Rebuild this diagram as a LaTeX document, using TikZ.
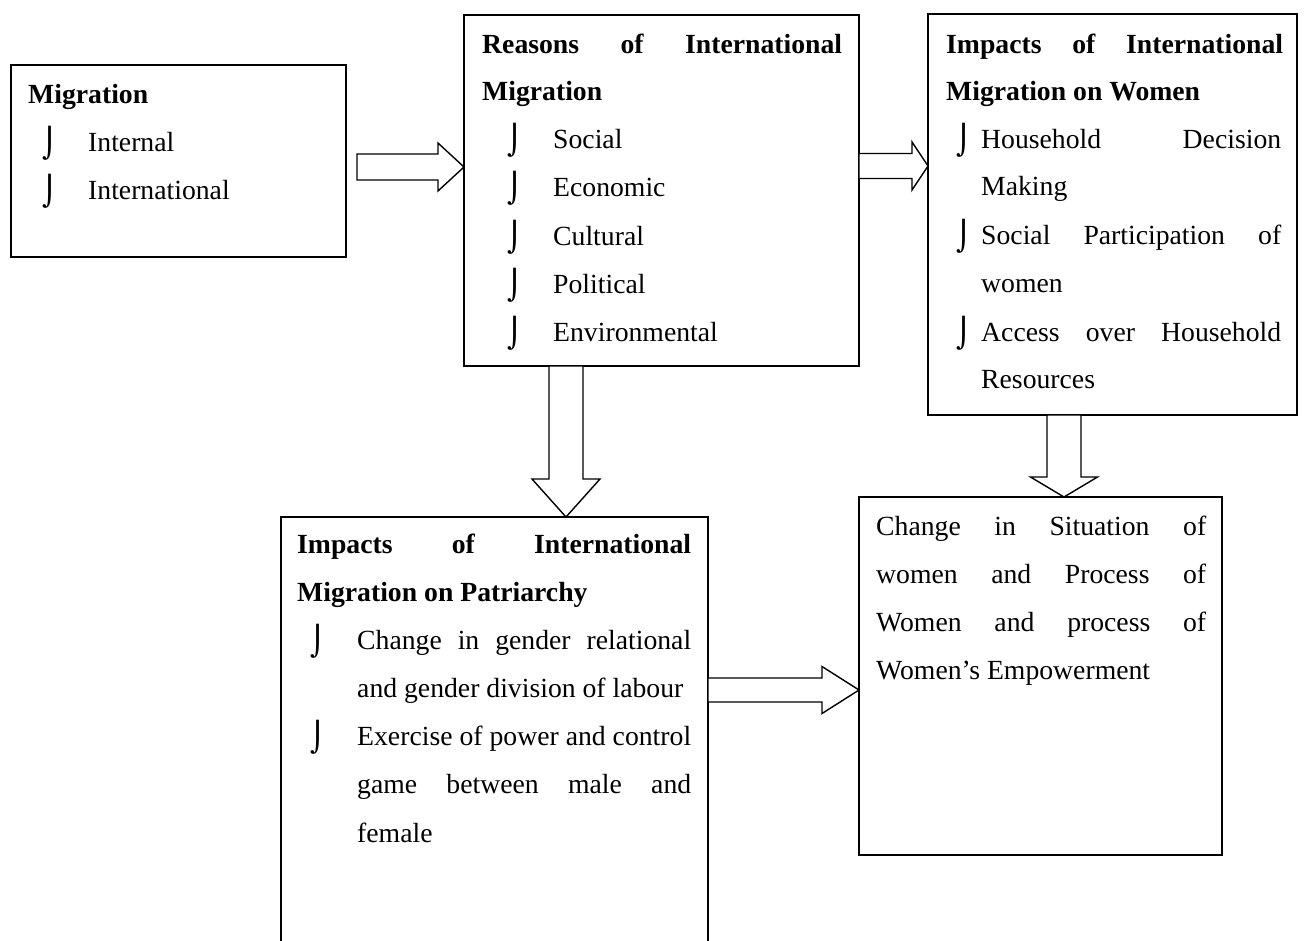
\documentclass[tikz,border=0pt]{standalone}
\usepackage{fontspec}
\setmainfont{Liberation Serif}
\newfontfamily\bulfont{DejaVu Sans}
\usetikzlibrary{calc}
\newcommand{\bul}{{\bulfont\fontsize{29}{29}\selectfont ⌡}}
% horizontal block arrow: tail centre, tip, shaft half, head half, head length
\newcommand{\harrow}[5]{%
  \draw[blk] let \p1=(#1), \p2=(#2) in
    (\x1,\y1+#3pt) -- (\x2-#5pt,\y1+#3pt) -- (\x2-#5pt,\y1+#4pt) -- (\x2,\y1)
    -- (\x2-#5pt,\y1-#4pt) -- (\x2-#5pt,\y1-#3pt) -- (\x1,\y1-#3pt) -- cycle;}
% vertical (downward) block arrow
\newcommand{\varrow}[5]{%
  \draw[blk] let \p1=(#1), \p2=(#2) in
    (\x1-#3pt,\y1) -- (\x1-#3pt,\y2+#5pt) -- (\x1-#4pt,\y2+#5pt) -- (\x1,\y2)
    -- (\x1+#4pt,\y2+#5pt) -- (\x1+#3pt,\y2+#5pt) -- (\x1+#3pt,\y1) -- cycle;}
\begin{document}
\begin{tikzpicture}[x=1pt,y=-1pt,
  box/.style={draw, line width=1.8pt, inner sep=0pt, outer sep=0pt, anchor=north west},
  frame/.style={inner sep=0pt, outer sep=0pt, anchor=north west},
  blk/.style={draw, fill=white, line width=1.4pt, line join=miter},
  txt/.style={anchor=base west, inner sep=0pt, font=\fontsize{27.7}{33}\selectfont},
  hd/.style={txt, font=\fontsize{27.7}{33}\selectfont\bfseries},
  bl/.style={anchor=base west, inner sep=0pt, yshift=-2pt}]
\useasboundingbox (0,0) rectangle (1304,940);
\fill[white] (0,0) rectangle (1304,940);

% boxes
\node[box, minimum width=335pt, minimum height=192pt] (mig) at (11,65) {};
\node[box, minimum width=395pt, minimum height=351pt] (rea) at (464,15) {};
\node[box, minimum width=369pt, minimum height=401pt] (wom) at (928,14) {};
\node[frame, minimum width=427pt, minimum height=432pt] (pat) at (281,517) {};
\draw[line width=1.8pt] (pat.south west) -- (pat.north west) -- (pat.north east) -- (pat.south east);
\node[box, minimum width=363pt, minimum height=358pt] (chg) at (859,497) {};

% Migration
\node[hd] (m0) at (28,103) {Migration};
\node[bl] (mb1) at (42,151) {\bul};
\node[txt] (m1) at (88,151) {Internal};
\node[bl] (mb2) at (42,199) {\bul};
\node[txt] (m2) at (88,199) {International};

% Reasons
\node[hd] (r0) at (482,53) {\makebox[360pt][s]{Reasons of International}};
\node[hd] (r0b) at (482,100) {Migration};
\node[bl] (rb1) at (507,148) {\bul};
\node[txt] (r1) at (553,148) {Social};
\node[bl] (rb2) at (507,196) {\bul};
\node[txt] (r2) at (553,196) {Economic};
\node[bl] (rb3) at (507,245) {\bul};
\node[txt] (r3) at (553,245) {Cultural};
\node[bl] (rb4) at (507,293) {\bul};
\node[txt] (r4) at (553,293) {Political};
\node[bl] (rb5) at (507,341) {\bul};
\node[txt] (r5) at (553,341) {Environmental};

% Women
\node[hd] (w0) at (946,53) {\makebox[337pt][s]{Impacts of International}};
\node[hd] (w0b) at (946,100) {Migration on Women};
\node[bl] (wb1) at (956,148) {\bul};
\node[txt] (w1) at (981,148) {\makebox[300pt][s]{Household Decision}};
\node[txt] (w1b) at (981,195) {Making};
\node[bl] (wb2) at (956,244) {\bul};
\node[txt] (w2) at (981,244) {\makebox[300pt][s]{Social Participation of}};
\node[txt] (w2b) at (981,292) {women};
\node[bl] (wb3) at (956,341) {\bul};
\node[txt] (w3) at (981,341) {\makebox[300pt][s]{Access over Household}};
\node[txt] (w3b) at (981,388) {Resources};

% Patriarchy
\node[hd] (p0) at (297,553) {\makebox[394pt][s]{Impacts of International}};
\node[hd] (p0b) at (297,601) {Migration on Patriarchy};
\node[bl] (pb1) at (310,649) {\bul};
\node[txt] (p1) at (357,649) {\makebox[334pt][s]{Change in gender relational}};
\node[txt] (p1b) at (357,697) {and gender division of labour};
\node[bl] (pb2) at (310,745) {\bul};
\node[txt] (p2) at (357,745) {\makebox[334pt][s]{Exercise of power and control}};
\node[txt] (p2b) at (357,793) {\makebox[334pt][s]{game between male and}};
\node[txt] (p2c) at (357,842) {female};

% Change
\node[txt] (c1) at (876,535) {\makebox[330pt][s]{Change in Situation of}};
\node[txt] (c2) at (876,583) {\makebox[330pt][s]{women and Process of}};
\node[txt] (c3) at (876,631) {\makebox[330pt][s]{Women and process of}};
\node[txt] (c4) at (876,679) {Women's Empowerment};

% block arrows
\coordinate (a1) at (357,167);
\harrow{a1}{rea.west}{13}{24}{26}
\coordinate (a2) at (rea.east |- 0,166);
\harrow{a2}{wom.west}{12.5}{24}{16}
\coordinate (a3) at (566,0 |- rea.south);
\varrow{a3}{pat.north}{17}{34}{38}
\coordinate (a4) at (1064,0 |- wom.south);
\varrow{a4}{chg.north}{17}{33.5}{20}
\coordinate (a5) at (pat.east |- 0,690);
\harrow{a5}{chg.west}{12}{23.5}{37}
\end{tikzpicture}
\end{document}
